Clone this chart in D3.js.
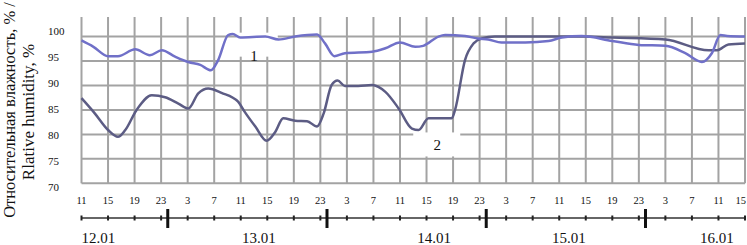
<!DOCTYPE html>
<head>
    <meta charset="utf-8">
    <script src="https://d3js.org/d3.v7.min.js"></script>
    <style>
        body { margin: 0; padding: 0; background: #fff; }
        text { font-family: "Liberation Serif", "DejaVu Serif", serif; fill: #111; }
    </style>
</head>
<body>
<div id="my_dataviz"></div>
<script>
    // hours counted from 12.01 11:00
    var hourLabels = [11, 15, 19, 23, 3, 7, 11, 15, 19, 23, 3, 7, 11, 15, 19, 23, 3, 7, 11, 15, 19, 23, 3, 7, 11, 15];
    var yTicks = [70, 75, 80, 85, 90, 95, 100];
    var dayLabels = ["12.01", "13.01", "14.01", "15.01", "16.01"];
    var dayLabelHours = [0, 24.2, 50.6, 70.9, 93.2];
    var midnightHours = [13, 37, 61, 85];

    // series 1
    var hours1 = [0, 1.8, 4, 5.5, 8.1, 10.3, 12.1, 14.1, 16.1, 17.9, 19.5, 20.6, 22.1, 22.8, 23.9, 27.7, 29.7, 32.2, 35.5, 36.7,
        38.1, 39.7, 43.8, 45.8, 48, 50.3, 51.5, 53.8, 54.8, 57.8, 59.8, 61.3, 63.3, 66.9, 70.4, 72.4, 75.4, 80, 84, 88,
        91, 93.5, 95, 96.3, 97.3, 100];
    var rh1 = [99.2, 97.9, 96.0, 96.0, 97.4, 96.2, 97.2, 95.9, 94.8, 94.2, 93.1, 95.2, 100.3, 100.5, 99.8, 100, 99.4, 100, 100.4, 98.6,
        96.0, 96.6, 96.9, 97.6, 98.8, 97.9, 98.1, 100, 100.3, 100.1, 99.6, 99.4, 98.8, 98.8, 99.1, 99.8, 100.1, 99.1, 98.3, 98.1,
        96.6, 94.8, 96.6, 100.3, 100.1, 100];

    // series 2
    var hours2 = [0, 2, 4, 5.5, 6.6, 8.3, 10.6, 12.6, 14.6, 16.1, 17.6, 19.1, 21.1, 23.6, 24.6, 26.2, 27.9, 29.2, 30.4, 32.2,
        34, 35.5, 36.5, 37.7, 38.6, 39.7, 41.7, 43.8, 45.8, 47.8, 49.8, 50.8, 52.3, 55.8, 56.3, 57.8, 59.1, 60.3, 62.3, 76,
        80, 88, 94.5, 95.8, 97.5, 100];
    var rh2 = [87.4, 84.3, 80.9, 79.5, 80.9, 85, 88, 87.6, 86.3, 85.3, 88.4, 89.4, 88.5, 86.7, 84.6, 81.6, 78.7, 80.5, 83.3, 82.8,
        82.7, 81.6, 84.3, 90.1, 91.0, 89.9, 89.9, 90.1, 88.7, 85.3, 81.2, 80.9, 83.3, 83.3, 85, 95.2, 98.6, 99.6, 100, 100,
        99.8, 99.4, 97.2, 97.2, 98.4, 98.6];

    var W = 747, H = 245;

    var svg = d3.select("#my_dataviz")
        .append("svg")
        .attr("width", W)
        .attr("height", H);

    var x = d3.scaleLinear().domain([0, 100]).range([81.5, 745]);
    var y = d3.scaleLinear().domain([70, 104]).range([183.3, 17]);
    // tick labels sit on a slightly wider spacing than the grid
    var yLab = d3.scaleLinear().domain([70, 100]).range([187, 31]);

    var hourTicks = hourLabels.map((d, i) => i * 4);

    // grid
    var grid = svg.append("g").attr("stroke", "#a3a3a3").attr("stroke-width", 2);
    grid.selectAll(".vg").data(hourTicks).enter().append("line")
        .attr("x1", d => x(d)).attr("x2", d => x(d))
        .attr("y1", y(104)).attr("y2", y(70));
    grid.selectAll(".hg").data(yTicks).enter().append("line")
        .attr("x1", x(0)).attr("x2", x(100))
        .attr("y1", d => y(d)).attr("y2", d => y(d));

    // white boxes behind curve labels
    svg.append("rect").attr("x", x(23.4)).attr("y", y(100.8)).attr("width", 41).attr("height", 24).attr("fill", "#fff");
    svg.append("rect").attr("x", x(50)).attr("y", y(80.4)).attr("width", 47).attr("height", 24).attr("fill", "#fff");

    // y labels
    svg.selectAll(".yl").data(yTicks).enter().append("text")
        .attr("x", 48).attr("y", d => yLab(d))
        .attr("dy", "0.35em")
        .style("font-size", "11px")
        .text(d => d);

    // hour labels
    var last = hourLabels.length - 1;
    svg.selectAll(".hl").data(hourLabels).enter().append("text")
        .attr("x", (d, i) => i === last ? W - 1 : x(hourTicks[i]))
        .attr("y", 204)
        .attr("text-anchor", (d, i) => i === last ? "end" : "middle")
        .style("font-size", "10.5px")
        .text(d => d);

    // time axis
    svg.append("line").attr("x1", x(0)).attr("x2", x(100)).attr("y1", 218).attr("y2", 218)
        .attr("stroke", "#333").attr("stroke-width", 1.5);
    svg.selectAll(".st").data(hourTicks).enter().append("line")
        .attr("x1", d => x(d)).attr("x2", d => x(d))
        .attr("y1", 215.5).attr("y2", 220.5)
        .attr("stroke", "#222").attr("stroke-width", 2);
    svg.selectAll(".bt").data(midnightHours).enter().append("line")
        .attr("x1", d => x(d)).attr("x2", d => x(d))
        .attr("y1", 209).attr("y2", 228)
        .attr("stroke", "#111").attr("stroke-width", 3);

    svg.selectAll(".dl").data(dayLabels).enter().append("text")
        .attr("x", (d, i) => x(dayLabelHours[i]))
        .attr("y", 243)
        .style("font-size", "15px")
        .text(d => d);

    // curves
    var line = d3.line()
        .x(d => x(d[0]))
        .y(d => y(d[1]))
        .curve(d3.curveMonotoneX);

    svg.append("path")
        .datum(hours2.map((h, i) => [h, rh2[i]]))
        .attr("d", line)
        .attr("fill", "none")
        .attr("stroke", "#5c5c84")
        .attr("stroke-width", 2.5);

    svg.append("path")
        .datum(hours1.map((h, i) => [h, rh1[i]]))
        .attr("d", line)
        .attr("fill", "none")
        .attr("stroke", "#7070c8")
        .attr("stroke-width", 2.5);

    // curve labels
    svg.append("text").attr("x", x(26)).attr("y", y(96)).attr("dy", "0.35em")
        .attr("text-anchor", "middle").style("font-size", "15px").text("1");
    svg.append("text").attr("x", x(53.6)).attr("y", y(77.8)).attr("dy", "0.35em")
        .attr("text-anchor", "middle").style("font-size", "15px").text("2");

    // y title
    svg.append("text")
        .attr("transform", "translate(15,110) rotate(-90)")
        .attr("text-anchor", "middle")
        .style("font-size", "16.5px")
        .text("Относительная влажность, % /");
    svg.append("text")
        .attr("transform", "translate(34,112) rotate(-90)")
        .attr("text-anchor", "middle")
        .style("font-size", "17px")
        .text("Rlative humidity, %");
</script>
</body>
